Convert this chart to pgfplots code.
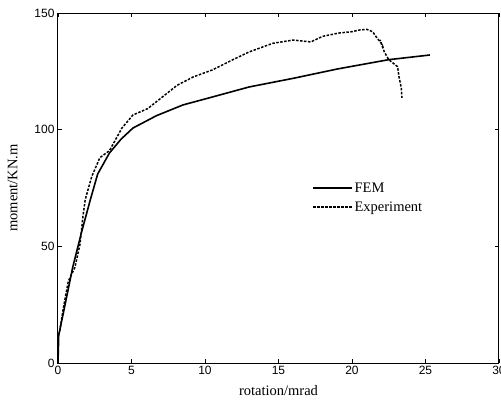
\documentclass[border=0pt]{standalone}
\usepackage{fontspec}
\setmainfont{Liberation Serif}
\newfontfamily\ticksf{Liberation Sans}
\usepackage{pgfplots}
\pgfplotsset{compat=1.18}

\begin{document}
\begin{tikzpicture}
\begin{axis}[
    scale only axis,
    width=441pt,
    height=350pt,
    xmin=0, xmax=30,
    ymin=0, ymax=150,
    xtick={0,5,10,15,20,25,30},
    ytick={0,50,100,150},
    tick align=inside,
    major tick length=4pt,
    tick style={black, line width=0.6pt},
    axis line style={line width=1pt},
    xtick pos=both, ytick pos=both,
    tick label style={font=\fontsize{12}{14}\ticksf},
    /pgf/number format/assume math mode=true,
    xlabel={rotation/mrad},
    ylabel={moment/KN.m},
    label style={font=\fontsize{14.5}{17}\selectfont},
    xlabel style={yshift=-4pt},
    ylabel style={yshift=10pt},
    legend style={at={(axis cs:17.3,78)}, anchor=north west, draw=none, fill=none,
        font=\fontsize{14.5}{17}\selectfont, row sep=5pt,
        inner sep=0pt, nodes={inner sep=1.5pt}},
    legend cell align=left,
    legend image code/.code={\draw[#1] (0pt,0pt) -- (39pt,0pt);},
]
\addplot[black, line width=1.6pt] coordinates {
(0,0) (0.05,12) (0.35,21) (1.0,41) (1.6,56) (2.2,70) (2.7,81) (3.5,90) (4.3,96)
(5.1,100.7) (6.7,106) (8.5,110.6) (10.5,114) (13,118.3) (16,122) (19,126)
(22.5,130) (25.3,132)
};
\addlegendentry{FEM}
\addplot[black, line width=1.5pt, dash pattern=on 2.5pt off 1.5pt] coordinates {
(0,12) (0.1,13) (0.35,23) (0.7,35) (1.15,41) (1.5,51) (1.7,63) (1.85,70)
(2.3,80) (2.85,88) (3.5,91) (4.35,100.7) (5.1,106.3) (6.1,109) (7.1,114)
(8.1,119) (9.2,122.6) (10.5,125.6) (11.9,130) (13,133.3) (14.6,137) (16,138.4)
(17.2,137.6) (18,140) (19.1,141.4) (20,142) (20.5,142.7) (21,143) (21.4,142)
(21.7,139.3) (22,137) (21.9,138.5) (22.2,133.3) (22.5,130) (23.1,127) (23.2,122.6)
(23.35,118) (23.4,113.6)
};
\addlegendentry{Experiment}
\end{axis}
\pgfresetboundingbox
\path (current axis.south west) ++(-58pt,-42pt) rectangle ++(501pt,405pt);
\end{tikzpicture}
\end{document}
